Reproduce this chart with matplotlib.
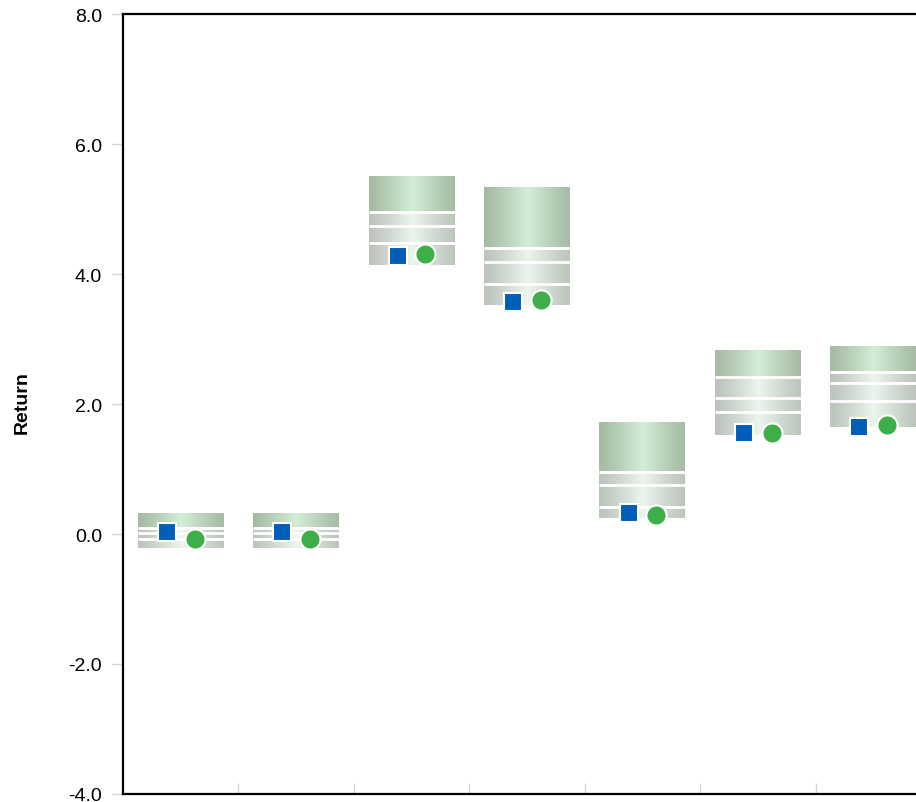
import numpy as np
import matplotlib.pyplot as plt
from matplotlib import font_manager

BLUE = "#005eb8"
GREEN = "#3dae49"
TICK = "#d4d4d4"

# range of returns per category (top -> bottom)
categories = ["A", "B", "C", "D", "E", "F", "G"]
p_top = [0.33, 0.33, 5.49, 5.33, 1.72, 2.82, 2.89]
p_hi  = [0.10, 0.10, 4.95, 4.40, 0.96, 2.41, 2.50]
p_mid = [0.01, 0.01, 4.74, 4.19, 0.75, 2.10, 2.32]
p_lo  = [-0.08, -0.08, 4.47, 3.85, 0.42, 1.88, 2.04]
p_bot = [-0.22, -0.22, 4.14, 3.52, 0.25, 1.53, 1.65]
square_vals = [0.03, 0.03, 4.28, 3.57, 0.33, 1.55, 1.64]
circle_vals = [-0.08, -0.08, 4.31, 3.60, 0.30, 1.56, 1.68]

yticks = [-4.0, -2.0, 0.0, 2.0, 4.0, 6.0, 8.0]

narrow = "Liberation Sans Narrow"
try:
    font_manager.findfont(narrow, fallback_to_default=False)
except Exception:
    narrow = "Liberation Sans"

plt.rcParams["font.family"] = ["Liberation Sans", "DejaVu Sans"]


def gradient(edge, center, n=64):
    t = np.linspace(-1, 1, n)
    w = np.clip(1 - np.abs(t - 0.02), 0, 1) ** 1.1
    edge = np.array(plt.matplotlib.colors.to_rgb(edge))
    center = np.array(plt.matplotlib.colors.to_rgb(center))
    row = edge[None, :] * (1 - w[:, None]) + center[None, :] * w[:, None]
    return row[None, :, :]


green_grad = gradient("#a6bba3", "#d3eed7")
gray_grad = gradient("#bcc4bc", "#ecf6ed")

fig = plt.figure(figsize=(9.16, 8.03), dpi=100)
ax = fig.add_axes([123 / 916, 8 / 803, 808 / 916, 780 / 803])

width = 0.745
x = np.arange(len(categories))
for i in x:
    x0, x1 = i - width / 2, i + width / 2
    ax.imshow(green_grad, extent=[x0, x1, p_hi[i], p_top[i]],
              aspect="auto", interpolation="bilinear", zorder=2)
    ax.imshow(gray_grad, extent=[x0, x1, p_bot[i], p_hi[i]],
              aspect="auto", interpolation="bilinear", zorder=2)
    ax.hlines([p_hi[i], p_mid[i], p_lo[i]], x0, x1, color="white",
              linewidth=2, zorder=3)

ax.plot(x - 0.12, square_vals, linestyle="none", marker="s", markersize=13.5,
        color=BLUE, markeredgecolor="white", markeredgewidth=1.5, zorder=4)
ax.plot(x + 0.12, circle_vals, linestyle="none", marker="o", markersize=14.5,
        color=GREEN, markeredgecolor="white", markeredgewidth=1.5, zorder=4)

ax.set_xlim(-0.5, len(categories) - 0.5)
ax.set_ylim(-4, 8)
ax.set_yticks(yticks)
ax.set_yticklabels([f"{v:.1f}" for v in yticks], fontsize=14)
ax.tick_params(axis="y", length=8, width=1, color=TICK, pad=7)
ax.set_xticks(x[:-1] + 0.5)
ax.set_xticklabels([])
ax.tick_params(axis="x", direction="in", length=8, width=1, color=TICK)

for side in ["left", "top", "bottom"]:
    ax.spines[side].set_linewidth(1.6)
    ax.spines[side].set_color("black")
ax.spines["right"].set_visible(False)

fig.text(22 / 916, 1 - 403 / 803, "Return", rotation=90, ha="center",
         va="center", fontsize=14, fontweight="bold", family=narrow)

fig.savefig("out.png", dpi=100)
